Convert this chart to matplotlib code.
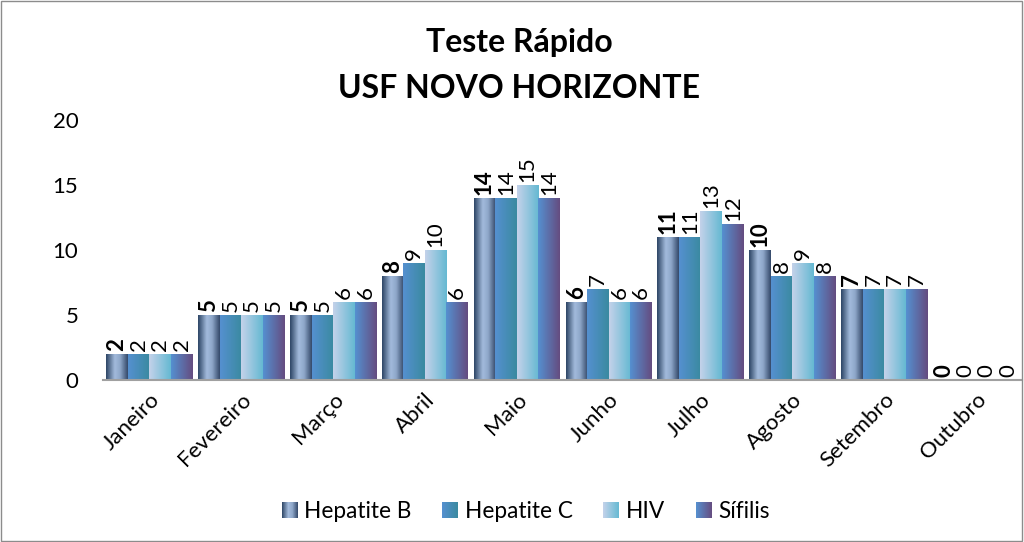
import numpy as np
import matplotlib
matplotlib.use('Agg')
import matplotlib.pyplot as plt
from matplotlib.colors import LinearSegmentedColormap
from matplotlib.patches import Rectangle
from matplotlib.legend_handler import HandlerBase

plt.rcParams['font.family'] = ['Lato', 'DejaVu Sans']

meses = ['Janeiro', 'Fevereiro', 'Março', 'Abril', 'Maio', 'Junho',
         'Julho', 'Agosto', 'Setembro', 'Outubro']
hep_b = [2, 5, 5, 8, 14, 6, 11, 10, 7, 0]
hep_c = [2, 5, 5, 9, 14, 7, 11, 8, 7, 0]
hiv = [2, 5, 6, 10, 15, 6, 13, 9, 7, 0]
sifilis = [2, 5, 6, 6, 14, 6, 12, 8, 7, 0]
series = ['Hepatite B', 'Hepatite C', 'HIV', 'Sífilis']

# gradientes horizontais de cada série
grads = [
    [(0, '#2d4565'), (0.4, '#a3bbdc'), (0.65, '#8ea7c9'), (1, '#34496a')],
    [(0, '#5590d0'), (1, '#3a8aa0')],
    [(0, '#c4d2ea'), (1, '#65b9d2')],
    [(0, '#5590d0'), (1, '#654c80')],
]
cmaps = [LinearSegmentedColormap.from_list('g%d' % i, g) for i, g in enumerate(grads)]
grad_img = np.linspace(0, 1, 64).reshape(1, -1)


class GradHandler(HandlerBase):
    def __init__(self, cmap):
        super().__init__()
        self.cmap = cmap

    def create_artists(self, legend, orig_handle, xdescent, ydescent,
                       width, height, fontsize, trans):
        s = height * 1.0
        x0 = -xdescent + (width - s)
        y0 = -ydescent + (height - s) / 2
        n = 16
        arts = []
        for k in range(n):
            r = Rectangle((x0 + k * s / n, y0), s / n * 1.05, s,
                          facecolor=self.cmap((k + 0.5) / n), edgecolor='none',
                          transform=trans)
            arts.append(r)
        return arts


fig = plt.figure(figsize=(10.24, 5.42), dpi=100)
ax = fig.add_axes([0.101, 0.299, 0.897, 0.48])

x = np.arange(len(meses))
w = 0.234
dados = [hep_b, hep_c, hiv, sifilis]
handles = []
for i, vals in enumerate(dados):
    pos = x + (i - 1.5) * w
    bars = ax.bar(pos, vals, w, facecolor='none', edgecolor='none', label=series[i])
    handles.append(bars)
    for b, v in zip(bars, vals):
        if v > 0:
            x0 = b.get_x()
            im = ax.imshow(grad_img, cmap=cmaps[i], aspect='auto',
                           extent=[x0, x0 + b.get_width(), 0, v],
                           interpolation='bicubic', zorder=2)
            im.set_clip_path(b)
        ax.text(b.get_x() + b.get_width() / 2, v + 0.2, str(v), rotation=90,
                ha='center', va='bottom', fontsize=16,
                fontweight='bold' if i == 0 else 'normal')

ax.set_xlim(-0.5, 9.5)
ax.set_ylim(0, 20)
ax.set_yticks([0, 5, 10, 15, 20])
ax.set_xticks(x)
ax.set_xticklabels(meses, rotation=45, ha='right', rotation_mode='anchor', fontsize=16)
ax.tick_params(axis='y', length=0, pad=18, labelsize=16)
ax.tick_params(axis='x', length=0, pad=7)
for s in ['top', 'right', 'left']:
    ax.spines[s].set_visible(False)
ax.spines['bottom'].set_color('#a0a0a0')
ax.spines['bottom'].set_linewidth(1.5)
ax.spines['bottom'].set_zorder(3)

fig.text(0.507, 0.922, 'Teste Rápido', ha='center', va='center', fontsize=23, fontweight='bold')
fig.text(0.507, 0.837, 'USF NOVO HORIZONTE', ha='center', va='center', fontsize=23, fontweight='bold')

leg = ax.legend(handles, series, loc='center', ncol=4, frameon=False, fontsize=16.3,
                handler_map={h: GradHandler(cmaps[i]) for i, h in enumerate(handles)},
                handlelength=0.75, handletextpad=0.3, columnspacing=1.3)
leg.set_bbox_to_anchor((0.513, 1 - 511 / 542), transform=fig.transFigure)

fig.patches.append(Rectangle((0.001, 0.001), 0.997, 0.997, transform=fig.transFigure,
                             fill=False, edgecolor='#8c8c8c', linewidth=1))

fig.savefig('out.png', dpi=100)
